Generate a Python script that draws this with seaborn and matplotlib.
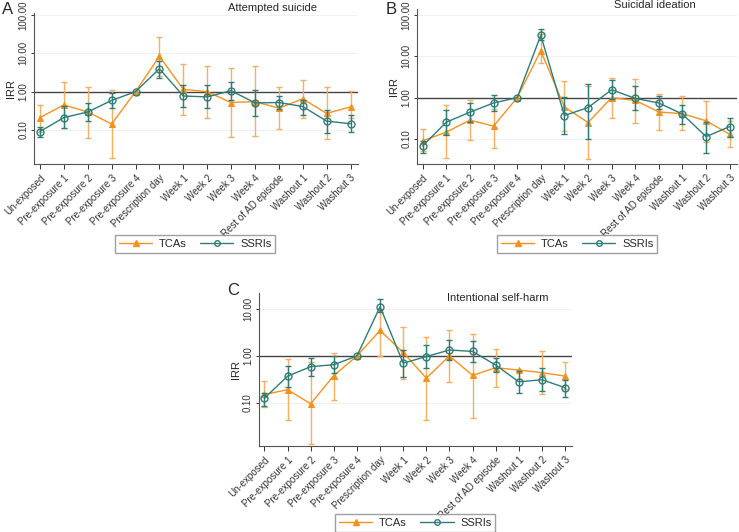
import numpy as np
import pandas as pd
import seaborn as sns
import matplotlib.pyplot as plt
from matplotlib.ticker import FixedLocator, FixedFormatter, NullLocator
from matplotlib.lines import Line2D

sns.set_theme(style="ticks")
plt.rcParams['font.family'] = ['Liberation Sans', 'DejaVu Sans']

periods = ["Un-exposed", "Pre-exposure 1", "Pre-exposure 2", "Pre-exposure 3", "Pre-exposure 4",
           "Prescription day", "Week 1", "Week 2", "Week 3", "Week 4", "Rest of AD episode",
           "Washout 1", "Washout 2", "Washout 3"]

# A - attempted suicide
a_tca = [0.21, 0.45, 0.295, 0.143, 1.0, 8.4, 1.15, 1.0, 0.52, 0.55, 0.37, 0.65, 0.27, 0.40]
a_tca_lo = [0.09, 0.11, 0.06, 0.018, np.nan, 2.6, 0.24, 0.21, 0.066, 0.07, 0.104, 0.21, 0.058, 0.21]
a_tca_hi = [0.45, 1.77, 1.34, 1.13, np.nan, 26.7, 5.4, 4.7, 4.1, 4.55, 1.29, 2.03, 1.29, 1.04]
a_ssri = [0.091, 0.21, 0.295, 0.59, 1.0, 3.96, 0.77, 0.73, 1.06, 0.51, 0.52, 0.41, 0.17, 0.145]
a_ssri_lo = [0.066, 0.11, 0.17, 0.37, np.nan, 2.33, 0.39, 0.38, 0.62, 0.23, 0.36, 0.24, 0.082, 0.087]
a_ssri_hi = [0.12, 0.41, 0.51, 0.92, np.nan, 6.5, 1.45, 1.45, 1.8, 1.1, 0.77, 0.61, 0.34, 0.24]

# B - suicidal ideation
b_tca = [0.09, 0.147, 0.286, 0.205, 1.0, 13.7, 0.6, 0.25, 1.0, 0.86, 0.45, 0.41, 0.275, 0.13]
b_tca_lo = [0.05, 0.034, 0.095, 0.06, np.nan, 6.9, 0.16, 0.033, 0.33, 0.25, 0.165, 0.165, 0.086, 0.065]
b_tca_hi = [0.17, 0.65, 0.9, 0.54, np.nan, 34.0, 2.5, 1.87, 3.0, 2.8, 1.2, 1.1, 0.82, 0.27]
b_ssri = [0.068, 0.256, 0.445, 0.745, 1.0, 32.5, 0.37, 0.575, 1.56, 0.96, 0.745, 0.4, 0.114, 0.2]
b_ssri_lo = [0.047, 0.125, 0.265, 0.48, np.nan, 24.7, 0.13, 0.1, 0.91, 0.5, 0.52, 0.225, 0.045, 0.11]
b_ssri_hi = [0.088, 0.5, 0.74, 1.14, np.nan, 47.0, 1.04, 2.17, 2.7, 1.87, 1.08, 0.68, 0.26, 0.33]

# C - intentional self-harm
c_tca = [0.15, 0.19, 0.095, 0.38, 1.0, 3.5, 1.19, 0.335, 1.0, 0.385, 0.56, 0.5, 0.44, 0.37]
c_tca_lo = [0.083, 0.043, 0.013, 0.117, np.nan, 1.0, 0.32, 0.043, 0.28, 0.048, 0.22, 0.32, 0.15, 0.195]
c_tca_hi = [0.29, 0.84, 0.74, 1.15, np.nan, 10.0, 4.2, 2.5, 3.6, 2.9, 1.4, 0.5, 1.27, 0.76]
c_ssri = [0.125, 0.37, 0.59, 0.65, 1.0, 11.3, 0.7, 0.97, 1.34, 1.25, 0.64, 0.28, 0.31, 0.21]
c_ssri_lo = [0.087, 0.22, 0.38, 0.44, np.nan, 8.7, 0.35, 0.54, 0.83, 0.73, 0.46, 0.16, 0.18, 0.13]
c_ssri_hi = [0.16, 0.62, 0.9, 1.0, np.nan, 16.4, 1.36, 1.74, 2.2, 2.1, 0.9, 0.48, 0.56, 0.31]

orange = "#F5921E"
orange_err = "#F7AE62"
teal = "#2E7C77"

W, H = 739, 532
fig = plt.figure(figsize=(W / 100, H / 100), dpi=100)

# (letter, title, axes rect, ylim, yticks, data..., legend centre, letter xy px, title xy in axes)
panels = [
    ("A", "Attempted suicide", [0.046, 0.692, 0.438, 0.284], (0.013, 115), [0.1, 1, 10, 100],
     a_tca, a_tca_lo, a_tca_hi, a_ssri, a_ssri_lo, a_ssri_hi, (0.264, 0.541), (2, 2), (0.738, 1.033)),
    ("B", "Suicidal ideation", [0.564, 0.692, 0.433, 0.291], (0.025, 140), [0.1, 1, 10, 100],
     b_tca, b_tca_lo, b_tca_hi, b_ssri, b_ssri_lo, b_ssri_hi, (0.781, 0.541), (386, 2), (0.744, 1.026)),
    ("C", "Intentional self-harm", [0.350, 0.162, 0.424, 0.287], (0.012, 22), [0.1, 1, 10],
     c_tca, c_tca_lo, c_tca_hi, c_ssri, c_ssri_lo, c_ssri_hi, (0.562, 0.017), (227, 283), (0.764, 0.967)),
]

x = np.arange(len(periods))
for (letter, title, rect, ylim, yt, tca, tlo, thi, ssri, slo, shi,
     legpos, letpos, titpos) in panels:
    ax = fig.add_axes(rect)
    ax.set_yscale("log")
    ax.grid(axis="y", color="#eeeeee", linewidth=0.6)
    ax.axhline(1.0, color="#444444", linewidth=1.0, zorder=1)

    tca = np.array(tca); ssri = np.array(ssri)
    ax.errorbar(x, tca, yerr=[tca - np.array(tlo), np.array(thi) - tca], fmt="none",
                ecolor=orange_err, elinewidth=1, capsize=2.5, capthick=1, zorder=2)
    sns.lineplot(x=x, y=tca, ax=ax, color=orange, marker="^", markersize=5,
                 markeredgecolor=orange, linewidth=1, zorder=3)
    ax.errorbar(x, ssri, yerr=[ssri - np.array(slo), np.array(shi) - ssri], fmt="none",
                ecolor=teal, elinewidth=1, capsize=2.5, capthick=1, zorder=4)
    sns.lineplot(x=x, y=ssri, ax=ax, color=teal, marker="o", markersize=5,
                 markerfacecolor="none", markeredgecolor=teal, markeredgewidth=1,
                 linewidth=1, zorder=5)

    ax.set_xlim(-0.25, 13.3)
    ax.set_ylim(*ylim)
    ax.yaxis.set_major_locator(FixedLocator(yt))
    ax.yaxis.set_major_formatter(FixedFormatter([f"{v:.2f}" for v in yt]))
    ax.yaxis.set_minor_locator(NullLocator())
    ax.set_xticks(x)
    ax.set_xticklabels(periods, rotation=45, ha="right", rotation_mode="anchor", fontsize=7)
    for lbl in ax.get_yticklabels():
        lbl.set_rotation(90)
        lbl.set_va("center")
        lbl.set_fontsize(7)
    ax.tick_params(axis="x", length=3.5, width=0.7, colors="#333333", pad=3)
    ax.tick_params(axis="y", length=2.5, width=0.7, colors="#333333", pad=1.5)
    ax.set_ylabel("IRR", fontsize=8, labelpad=1.5)
    ax.set_xlabel("")
    for s in ["top", "right"]:
        ax.spines[s].set_visible(False)
    for s in ["left", "bottom"]:
        ax.spines[s].set_color("#555555")
        ax.spines[s].set_linewidth(0.8)

    ax.text(titpos[0], titpos[1], title, transform=ax.transAxes, ha="center", va="center",
            fontsize=8)
    fig.text(letpos[0] / W, 1 - letpos[1] / H, letter, ha="left", va="top", fontsize=12)

    handles = [Line2D([], [], color=orange, marker="^", markersize=4, linewidth=1),
               Line2D([], [], color=teal, marker="o", markersize=4, markerfacecolor="none",
                      linewidth=1)]
    fig.legend(handles, ["TCAs", "SSRIs"], loc="center", bbox_to_anchor=legpos, ncol=2,
               fontsize=8, frameon=True, fancybox=False, edgecolor="#888888",
               handlelength=3.0, columnspacing=1.2, borderpad=0.35, handletextpad=0.6)

fig.savefig("out.png", dpi=100)
